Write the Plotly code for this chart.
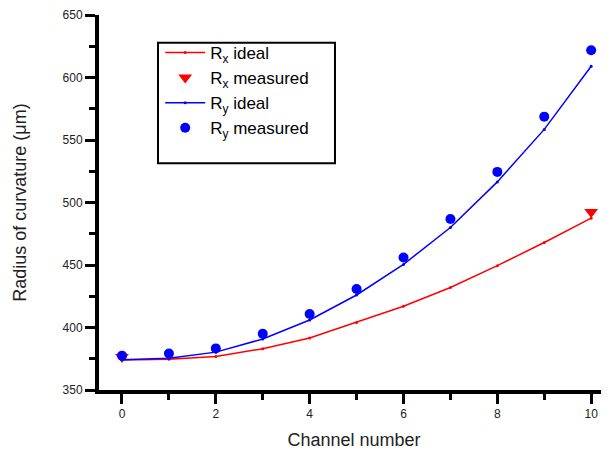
import plotly.graph_objects as go

channels = [0, 1, 2, 3, 4, 5, 6, 7, 8, 9, 10]
rx_ideal = [374, 374.7, 376.8, 383, 391.6, 404, 417, 432, 449.5, 468, 487.5]
ry_ideal = [374.3, 375.5, 380.3, 390.8, 406, 426, 450.5, 480, 516.5, 558.5, 609]
rx_meas_ch = [0, 10]
rx_meas = [376.5, 492.5]
ry_meas = [377.5, 379.2, 383.3, 395, 410.8, 430.8, 456, 486.8, 524.5, 568.7, 621.8]

FONT = "Arial, Liberation Sans, sans-serif"

fig = go.Figure()
fig.add_trace(go.Scatter(x=channels, y=rx_ideal, mode="lines+markers",
                         line=dict(color="#ff0000", width=1.5),
                         marker=dict(size=3, color="#ff0000"),
                         name="R<sub>x</sub> ideal"))
fig.add_trace(go.Scatter(x=rx_meas_ch, y=rx_meas, mode="markers",
                         marker=dict(symbol="triangle-down", size=12, color="#ff0000"),
                         name="R<sub>x</sub> measured"))
fig.add_trace(go.Scatter(x=channels, y=ry_ideal, mode="lines+markers",
                         line=dict(color="#0000ff", width=1.5),
                         marker=dict(size=3, color="#0000ff"),
                         name="R<sub>y</sub> ideal"))
fig.add_trace(go.Scatter(x=channels, y=ry_meas, mode="markers",
                         marker=dict(symbol="circle", size=10, color="#0000ff"),
                         name="R<sub>y</sub> measured"))

AXIS_COMMON = dict(showgrid=False, zeroline=False,
                   showline=True, linecolor="#000000", linewidth=4,
                   ticks="outside", ticklen=10, tickwidth=3, tickcolor="#000000",
                   ticklabeloverflow="allow", layer="above traces")

fig.update_layout(
    width=601, height=448,
    margin=dict(l=91, r=0, t=2, b=66),
    paper_bgcolor="white", plot_bgcolor="white",
    font=dict(family=FONT, color="#000000"),
    showlegend=True,
    legend=dict(x=0.12, y=0.947, xanchor="left", yanchor="top",
                bgcolor="rgba(0,0,0,0)", borderwidth=0, itemwidth=40,
                font=dict(size=17, family=FONT), tracegroupgap=0),
    xaxis=dict(range=[-0.49, 10.38], tick0=0, dtick=2,
               tickfont=dict(size=12, color="#222222"),
               minor=dict(ticks="outside", ticklen=6, tickwidth=3, tickcolor="#000000", dtick=1, tick0=0),
               title=dict(text="Channel number", font=dict(size=18, color="#222222"), standoff=14),
               **AXIS_COMMON),
    yaxis=dict(range=[350, 650], tick0=350, dtick=50,
               tickfont=dict(size=12, color="#222222"),
               minor=dict(ticks="outside", ticklen=6, tickwidth=3, tickcolor="#000000", dtick=25, tick0=350),
               title=dict(text="Radius of curvature (μm)", font=dict(size=18, color="#222222"), standoff=32),
               **AXIS_COMMON),
    shapes=[dict(type="rect", xref="paper", yref="paper",
                 x0=0.1157, x1=0.4627, y0=0.605, y1=0.926,
                 line=dict(color="black", width=2), fillcolor="rgba(0,0,0,0)")],
)

fig.write_html("out.html")
